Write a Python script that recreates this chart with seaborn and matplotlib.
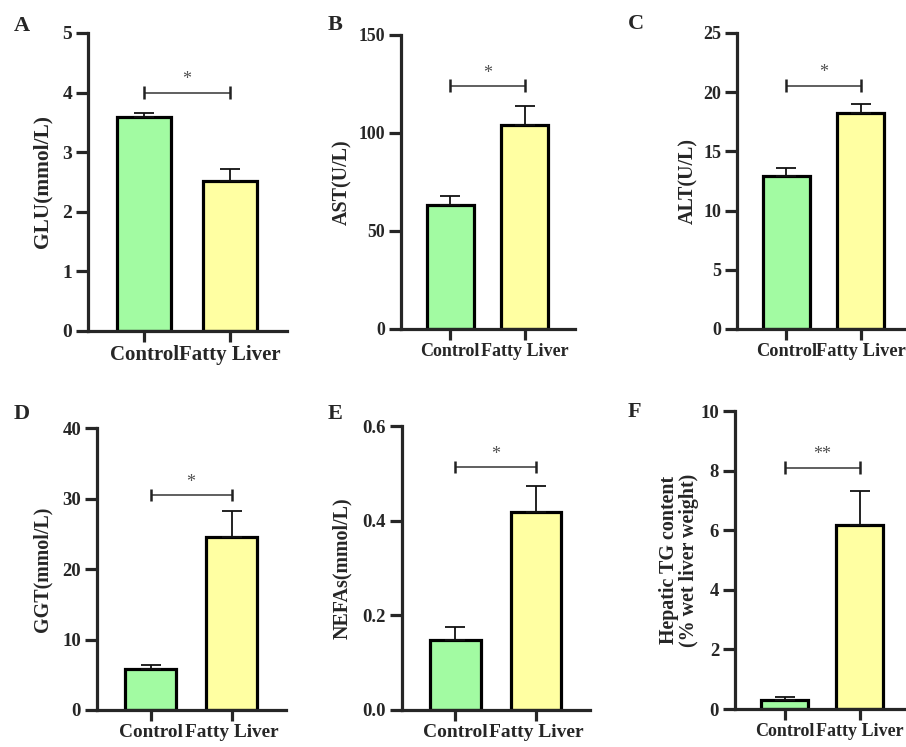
import pandas as pd
import matplotlib
matplotlib.use('Agg')
import matplotlib.pyplot as plt
import seaborn as sns

groups = ['Control', 'Fatty Liver']
colors = ['#a2fba2', '#ffffa2']

glu_mean = [3.59, 2.52]
glu_sem = [0.06, 0.20]
ast_mean = [63.2, 104.0]
ast_sem = [4.6, 9.9]
alt_mean = [12.92, 18.26]
alt_sem = [0.65, 0.76]
ggt_mean = [5.82, 24.55]
ggt_sem = [0.52, 3.65]
nefa_mean = [0.148, 0.419]
nefa_sem = [0.027, 0.055]
tg_mean = [0.31, 6.19]
tg_sem = [0.10, 1.12]

letters = ['A', 'B', 'C', 'D', 'E', 'F']
ylabels = ['GLU(mmol/L)', 'AST(U/L)', 'ALT(U/L)', 'GGT(mmol/L)', 'NEFAs(mmol/L)',
           'Hepatic TG content\n(% wet liver weight)']
yticks = [[0, 1, 2, 3, 4, 5], [0, 50, 100, 150], [0, 5, 10, 15, 20, 25],
          [0, 10, 20, 30, 40], [0.0, 0.2, 0.4, 0.6], [0, 2, 4, 6, 8, 10]]
ytick_labels = [['0', '1', '2', '3', '4', '5'], ['0', '50', '100', '150'],
                ['0', '5', '10', '15', '20', '25'], ['0', '10', '20', '30', '40'],
                ['0.0', '0.2', '0.4', '0.6'], ['0', '2', '4', '6', '8', '10']]
sig_marks = ['*', '*', '*', '*', '*', '**']
sig_heights = [4.0, 124, 20.56, 30.5, 0.513, 8.10]

means = [glu_mean, ast_mean, alt_mean, ggt_mean, nefa_mean, tg_mean]
sems = [glu_sem, ast_sem, alt_sem, ggt_sem, nefa_sem, tg_sem]

sns.set_style('ticks')
plt.rcParams['font.family'] = ['Liberation Serif', 'DejaVu Serif']
plt.rcParams['font.weight'] = 'bold'

W, H = 906, 747
fig = plt.figure(figsize=(W / 100, H / 100), dpi=100)


def box(left, top, right, bottom):
    return [left / W, 1 - bottom / H, (right - left) / W, (bottom - top) / H]


# axes boxes in pixels: left spine, top of y range, right end of x axis, y = 0
boxes = [box(88, 33, 287, 331), box(401, 35, 575, 329), box(737, 33, 911, 329),
         box(97, 428, 286, 710), box(402, 426, 590, 710), box(735, 411, 910, 709)]
font_sizes = [15, 13, 13.2, 13.9, 14, 13]
ytick_sizes = [14, 12.8, 13, 13.5, 13.5, 13.5]
label_x = [42, 342, 688, 42, 342, 679]
letter_pos = [(22, 26), (335, 25), (636, 24), (22, 414), (335, 414), (634, 412)]

for i in range(6):
    ax = fig.add_axes(boxes[i])
    df = pd.DataFrame({'group': groups, 'value': means[i]})
    sns.barplot(data=df, x='group', y='value', hue='group', palette=colors,
                saturation=1, width=0.63, edgecolor='black', linewidth=2.3,
                legend=False, ax=ax)
    ax.errorbar([0, 1], means[i], yerr=[[0, 0], sems[i]], fmt='none',
                ecolor='#111111', elinewidth=1.3, capsize=7.5, capthick=1.3, zorder=1)
    ax.set_xlim(-0.66, 1.67)
    ax.set_ylim(yticks[i][0], yticks[i][-1])
    ax.set_yticks(yticks[i])
    ax.set_yticklabels(ytick_labels[i], fontsize=ytick_sizes[i], fontweight='bold')
    ax.set_xticks([0, 1])
    ax.set_xticklabels(groups, fontsize=font_sizes[i], fontweight='bold')
    ax.set_xlabel('')
    ax.set_ylabel(ylabels[i], fontsize=15.4 if i == 0 else 14.4,
                  fontweight='bold', linespacing=1.0)
    ax.yaxis.label.set_va('center')
    ax.yaxis.set_label_coords((label_x[i] - boxes[i][0] * W) / (boxes[i][2] * W), 0.5)
    sns.despine(ax=ax)
    for s in ['left', 'bottom']:
        ax.spines[s].set_linewidth(2.3)
    ax.tick_params(axis='y', length=8.5, width=2.3, pad=3)
    ax.tick_params(axis='x', length=8, width=2.3, pad=2)

    # significance bracket
    h = sig_heights[i]
    ax.plot([0, 1], [h, h], color='#444444', lw=1.2, solid_capstyle='butt')
    ax.errorbar([0, 1], [h, h], yerr=(yticks[i][-1] - yticks[i][0]) * 0.022,
                fmt='none', ecolor='#222222', elinewidth=1.8, capsize=0)
    ax.annotate(sig_marks[i], xy=(0.5, h), xytext=(0, 3), textcoords='offset points',
                ha='center', va='bottom', fontsize=13, fontweight='normal', color='#505050')

    fig.text(letter_pos[i][0] / W, 1 - letter_pos[i][1] / H, letters[i],
             fontsize=16, fontweight='bold', ha='center', va='center')

fig.savefig('out.png', dpi=100)
